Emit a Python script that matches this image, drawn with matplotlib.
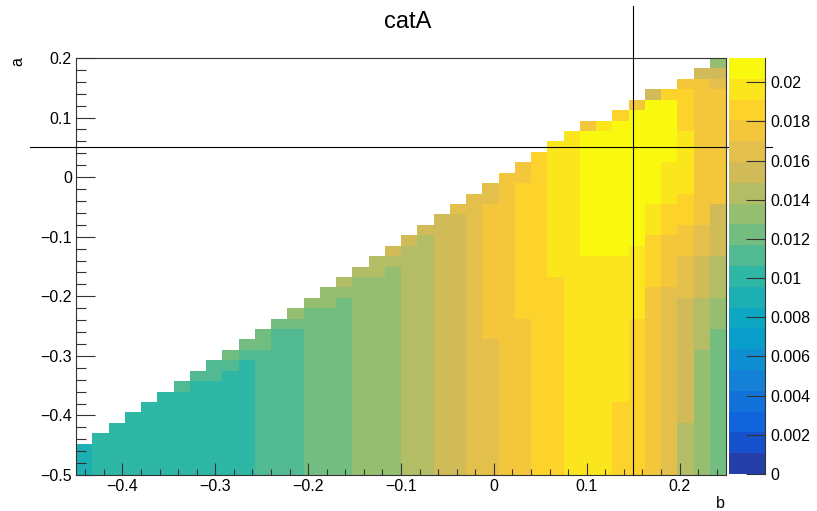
import numpy as np
import matplotlib
matplotlib.use("Agg")
import matplotlib.pyplot as plt
from matplotlib.colors import ListedColormap, BoundaryNorm
from matplotlib.ticker import MultipleLocator, FuncFormatter, FixedLocator

plt.rcParams["font.family"] = ["Liberation Sans", "DejaVu Sans"]

# ---- histogram definition -------------------------------------------------
title = "catA"
x_title = "b"
y_title = "a"
b_min, b_max, n_b = -0.45, 0.25, 40
a_min, a_max, n_a = -0.5, 0.2, 40
z_max = 0.02124          # maximum bin content
n_contours = 20          # number of colour slices on the z axis

# Bin contents per b-column (bottom a-bin first), written as z-slice codes
# (base-20 digit: slice k holds contents in [k, k+1) * z_max / 20).
columns = [
    "888",
    "9999",
    "9" * 5,
    "9" * 6,
    "9" * 7,
    "9" * 8,
    "9" * 8 + "A",
    "9" * 9 + "A",
    "9" * 9 + "AA",
    "9" * 10 + "AB",
    "9" * 11 + "AB",
    "A" * 12 + "BB",
    "A" * 14 + "B",
    "A" * 14 + "BC",
    "B" * 16 + "C",
    "B" * 16 + "CC",
    "B" * 17 + "CD",
    "C" * 19 + "D",
    "C" * 19 + "DD",
    "C" * 20 + "DE",
    "D" * 22 + "E",
    "D" * 23 + "E",
    "E" * 25,
    "E" * 25 + "F",
    "F" * 27,
    "F" * 13 + "G" * 13 + "FF",
    "G" * 29,
    "G" * 15 + "H" * 13 + "GG",
    "H" * 31,
    "H" * 19 + "I" * 13,
    "I" * 33,
    "I" * 21 + "J" * 12 + "G",
    "I" * 21 + "J" * 12 + "I",
    "H" * 7 + "I" * 14 + "J" * 13 + "H",
    "H" * 15 + "I" * 7 + "J" * 13 + "G",
    "G" * 18 + "H" * 5 + "I" * 3 + "J" * 10 + "E",
    "F" * 18 + "G" * 5 + "H" * 3 + "I" * 4 + "J" * 6 + "H",
    "D" * 5 + "E" * 12 + "F" * 4 + "G" * 3 + "H" * 3 + "I" * 6 + "H" * 4 + "G",
    "C" * 12 + "D" * 5 + "E" * 4 + "F" * 3 + "G" * 14 + "E",
    "B" * 14 + "C" * 3 + "D" * 4 + "E" * 5 + "G" * 11 + "F" + "E" + "C",
]

# crosshair marking the reference point
ref_b, ref_a = 0.15, 0.05
h_line_b = (-0.5, 0.3)
v_line_a = (-0.5, 0.2873)

# ---- kBird palette (255 colours, gradient between the stops) --------------
stops = [0.0, 0.125, 0.25, 0.375, 0.5, 0.625, 0.75, 0.875, 1.0]
red = [0.2082, 0.0592, 0.0780, 0.0232, 0.1802, 0.5301, 0.8186, 0.9956, 0.9764]
green = [0.1664, 0.3599, 0.5041, 0.6419, 0.7178, 0.7492, 0.7328, 0.7862, 0.9832]
blue = [0.5293, 0.8684, 0.8385, 0.7914, 0.6425, 0.4662, 0.3499, 0.1968, 0.0539]


def gradient_table(n=255):
    cols = []
    for g in range(1, len(stops)):
        k = int(np.floor(n * stops[g]) - np.floor(n * stops[g - 1]))
        for c in range(k):
            f = c / k
            cols.append((red[g - 1] + f * (red[g] - red[g - 1]),
                         green[g - 1] + f * (green[g] - green[g - 1]),
                         blue[g - 1] + f * (blue[g] - blue[g - 1])))
    return cols


palette = gradient_table(255)
slice_colors = [palette[int((k + 0.99) * len(palette) / n_contours)]
                for k in range(n_contours)]
cmap = ListedColormap(slice_colors)
levels = np.linspace(0.0, z_max, n_contours + 1)
norm = BoundaryNorm(levels, n_contours)

# ---- bin contents ---------------------------------------------------------
dz = z_max / n_contours
z = np.full((n_a, n_b), np.nan)
for ib, col in enumerate(columns):
    for ia, code in enumerate(col):
        z[ia, ib] = (int(code, 20) + 0.5) * dz
z = np.ma.masked_invalid(z)

b_edges = np.linspace(b_min, b_max, n_b + 1)
a_edges = np.linspace(a_min, a_max, n_a + 1)

# ---- figure ---------------------------------------------------------------
W, H = 817, 511
fig = plt.figure(figsize=(W / 100, H / 100), dpi=100)


def frac(x0, y0, x1, y1):
    return [x0 / W, 1 - y1 / H, (x1 - x0) / W, (y1 - y0) / H]


ax = fig.add_axes(frac(76, 58, 726, 475))
ax.pcolormesh(b_edges, a_edges, z, cmap=cmap, norm=norm,
              edgecolors="none", antialiased=False)
ax.set_xlim(b_min, b_max)
ax.set_ylim(a_min, a_max)


def fmt(v, _pos=None):
    v = round(v, 4)
    if abs(v) < 1e-9:
        return "0"
    s = f"{v:g}"
    return s.replace("-", "\u2212")


ax.xaxis.set_major_locator(MultipleLocator(0.1))
ax.xaxis.set_minor_locator(MultipleLocator(0.02))
ax.yaxis.set_major_locator(MultipleLocator(0.1))
ax.yaxis.set_minor_locator(MultipleLocator(0.02))
ax.xaxis.set_major_formatter(FuncFormatter(fmt))
ax.yaxis.set_major_formatter(FuncFormatter(fmt))

label_size = 11.5
frame_col = "#333333"
ax.tick_params(axis="x", which="major", direction="in", length=9.0,
               width=0.8, color=frame_col, pad=3, labelsize=label_size)
ax.tick_params(axis="x", which="minor", direction="in", length=4.5,
               width=0.8, color=frame_col)
ax.tick_params(axis="y", which="major", direction="in", length=14.0,
               width=0.8, color=frame_col, pad=3, labelsize=label_size)
ax.tick_params(axis="y", which="minor", direction="in", length=7.0,
               width=0.8, color=frame_col)
for s in ax.spines.values():
    s.set_color(frame_col)
    s.set_linewidth(0.8)

# crosshair lines (extend past the frame)
ax.plot(h_line_b, [ref_a, ref_a], color="black", lw=0.8, clip_on=False, zorder=5)
ax.plot([ref_b, ref_b], v_line_a, color="black", lw=0.8, clip_on=False, zorder=5)

# titles
fig.text(408 / W, 1 - 22 / H, title, ha="center", va="center", fontsize=17)
fig.text(720 / W, 1 - 503 / H, x_title, ha="center", va="center",
         fontsize=label_size)
fig.text(18 / W, 1 - 62 / H, y_title, ha="center", va="center",
         fontsize=label_size, rotation=90)

# ---- palette axis ---------------------------------------------------------
cax = fig.add_axes(frac(729, 58, 765, 474))
cax.pcolormesh([0, 1], levels, (levels[:-1] + dz / 2)[:, None],
               cmap=cmap, norm=norm, edgecolors="none", antialiased=False)
cax.set_xlim(0, 1)
cax.set_ylim(0, z_max)
cax.set_xticks([])
cax.yaxis.tick_right()
cax.yaxis.set_major_locator(FixedLocator(np.arange(0, 0.0201, 0.002)))
cax.yaxis.set_major_formatter(FuncFormatter(fmt))
cax.tick_params(axis="y", which="major", direction="in", length=14.0,
                width=0.8, color=frame_col, pad=4, labelsize=label_size)
for name, s in cax.spines.items():
    s.set_visible(name == "right")
    s.set_color(frame_col)
    s.set_linewidth(0.8)

fig.savefig("out.png", dpi=100)
